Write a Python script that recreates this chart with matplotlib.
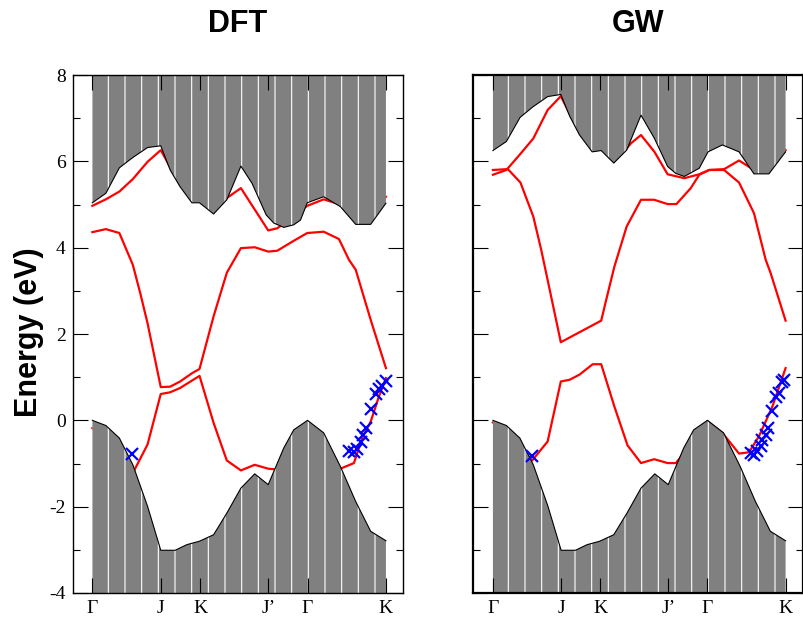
import matplotlib
matplotlib.use("Agg")
import matplotlib.pyplot as plt
from matplotlib.ticker import MultipleLocator

# k-path positions (Gamma -> K, normalised)
K_TICKS = [0.0, 0.233, 0.367, 0.599, 0.733, 1.0]
K_LABELS = ["Γ", "J", "K", "J’", "Γ", "K"]
Y_TICKS = [-4, -2, 0, 2, 4, 6, 8]

# valence continuum top (same in both panels)
vb_x = [0, .046, .092, .138, .188, .233, .282, .322, .365, .413, .458, .506,
        .553, .599, .652, .686, .733, .788, .845, .897, .948, 1.0]
vb_top = [0.0, -0.12, -0.41, -1.03, -1.99, -3.01, -3.01, -2.88, -2.80, -2.65,
          -2.15, -1.57, -1.24, -1.49, -0.64, -0.22, 0.0, -0.29, -1.07, -1.88,
          -2.57, -2.79]

# conduction continuum bottom
dft_cb_x = [0, .046, .092, .138, .188, .233, .265, .299, .339, .365, .413, .458,
            .506, .544, .592, .618, .652, .686, .709, .732, .788, .845, .897,
            .948, 1.0]
dft_cb = [5.04, 5.26, 5.85, 6.09, 6.32, 6.36, 5.80, 5.41, 5.04, 5.04, 4.78, 5.11,
          5.89, 5.49, 4.76, 4.57, 4.47, 4.53, 4.64, 5.04, 5.18, 4.95, 4.54,
          4.54, 5.03]
gw_cb_x = [0, .046, .093, .138, .187, .232, .262, .296, .339, .370, .413, .457,
           .506, .552, .597, .625, .654, .705, .735, .784, .841, .892, .943, 1.0]
gw_cb = [6.25, 6.46, 7.02, 7.27, 7.50, 7.55, 7.05, 6.61, 6.22, 6.25, 5.96, 6.26,
         7.07, 6.53, 5.88, 5.72, 5.65, 5.84, 6.22, 6.38, 6.22, 5.71, 5.71, 6.22]

# DFT bands
dft_b1_x = [0, .046, .092, .138, .188, .233, .299, .365, .413, .458, .506, .599,
            .63, .732, .788, .845, .897, .948, 1.0]
dft_b1 = [4.97, 5.12, 5.30, 5.59, 5.99, 6.26, 5.45, 5.10, 4.85, 5.15, 5.38, 4.40,
          4.45, 4.97, 5.12, 5.00, 4.80, 4.80, 5.18]
dft_b2_x = [0, .046, .092, .138, .163, .188, .233, .265, .299, .339, .365, .413,
            .458, .506, .553, .599, .63, .686, .732, .788, .84, .874, .897,
            .948, 1.0]
dft_b2 = [4.36, 4.43, 4.34, 3.60, 2.95, 2.25, 0.77, 0.78, 0.90, 1.09, 1.19, 2.41,
          3.42, 3.99, 4.01, 3.91, 3.93, 4.16, 4.34, 4.37, 4.20, 3.72, 3.49,
          2.33, 1.21]
dft_b3_x = [0, .046, .092, .138, .188, .233, .265, .299, .339, .365, .413, .458,
            .506, .553, .599, .63, .686, .733, .788, .845, .891, .919, .948,
            .976, 1.0]
dft_b3 = [-0.18, -0.45, -0.85, -1.22, -0.56, 0.61, 0.65, 0.75, 0.92, 1.03, -0.06,
          -0.93, -1.16, -1.03, -1.12, -1.14, -1.12, -1.12, -1.12, -1.12, -0.99,
          -0.41, -0.03, 0.55, 0.98]
dft_pts_x = [.134, .874, .891, .903, .915, .922, .932, .948, .965, .975, .986, 1.0]
dft_pts = [-0.78, -0.70, -0.73, -0.67, -0.50, -0.35, -0.18, 0.27, 0.62, 0.72,
           0.80, 0.90]

# GW bands
gw_b1_x = [0, .046, .091, .138, .187, .232, .296, .370, .413, .457, .472, .506,
           .552, .597, .654, .705, .739, .79, .841, .892, .943, 1.0]
gw_b1 = [5.69, 5.80, 6.15, 6.53, 7.19, 7.51, 6.65, 6.30, 6.00, 6.30, 6.42, 6.61,
         6.22, 5.70, 5.61, 5.70, 5.80, 5.82, 6.02, 5.80, 5.80, 6.26]
gw_b2_x = [0, .051, .094, .138, .165, .187, .232, .370, .387, .415, .457, .506,
           .551, .597, .627, .676, .705, .739, .79, .841, .892, .932, .949, 1.0]
gw_b2 = [5.80, 5.82, 5.51, 4.72, 3.95, 3.25, 1.81, 2.31, 2.79, 3.56, 4.49, 5.11,
         5.11, 5.01, 5.01, 5.38, 5.69, 5.80, 5.80, 5.51, 4.80, 3.72, 3.41, 2.31]
gw_b3_x = [0, .046, .092, .134, .187, .232, .262, .296, .341, .370, .415, .460,
           .506, .551, .597, .625, .684, .733, .784, .841, .875, .909, .955, 1.0]
gw_b3 = [-0.05, -0.30, -0.60, -0.93, -0.49, 0.90, 0.94, 1.06, 1.30, 1.30, 0.32,
         -0.58, -0.99, -0.90, -0.99, -0.99, -0.50, -0.02, -0.29, -0.77, -0.74,
         -0.37, 0.32, 1.21]
gw_pts_x = [.132, .881, .892, .903, .915, .920, .932, .941, .954, .968, .977,
            .988, .994]
gw_pts = [-0.82, -0.76, -0.80, -0.72, -0.60, -0.45, -0.33, -0.18, 0.21, 0.55,
          0.63, 0.88, 0.94]

FILL = "#808080"
plt.rcParams["hatch.linewidth"] = 0.8


def draw_panel(ax, title, cb_x, cb, bands, pts_x, pts, spine_w):
    ax.set_axisbelow(False)
    for bx, by in bands:
        ax.plot(bx, by, color="red", lw=1.6, zorder=2.1)
    ax.fill_between(cb_x, cb, 8, facecolor=FILL, edgecolor="white", hatch="|",
                    linewidth=0, zorder=2.2)
    ax.fill_between(vb_x, -4, vb_top, facecolor=FILL, edgecolor="white",
                    hatch="|", linewidth=0, zorder=2.2)
    ax.plot(cb_x, cb, color="black", lw=0.8, zorder=2.3)
    ax.plot(vb_x, vb_top, color="black", lw=0.8, zorder=2.3)
    ax.plot(pts_x, pts, ls="none", marker="x", ms=8, mew=1.6, color="blue",
            zorder=4)

    ax.set_xlim(-0.067, 1.058)
    ax.set_ylim(-4, 8)
    ax.set_xticks(K_TICKS)
    ax.set_xticklabels(K_LABELS, fontsize=14, family="Liberation Serif")
    ax.set_yticks(Y_TICKS)
    ax.yaxis.set_minor_locator(MultipleLocator(1))
    ax.tick_params(which="both", direction="in", top=True, right=True,
                   width=0.8, pad=5)
    ax.tick_params(which="major", length=10.5)
    ax.tick_params(which="minor", length=5)
    for sp in ax.spines.values():
        sp.set_linewidth(spine_w)
    ax.set_title(title, fontsize=22, fontweight="bold",
                 family="Liberation Sans", pad=31)


fig = plt.figure(figsize=(8.04, 6.17), dpi=100)
ax1 = fig.add_axes([0.0904, 0.0389, 0.4108, 0.8395])
ax2 = fig.add_axes([0.5887, 0.0389, 0.4095, 0.8395])

draw_panel(ax1, "DFT", dft_cb_x, dft_cb,
           [(dft_b1_x, dft_b1), (dft_b2_x, dft_b2), (dft_b3_x, dft_b3)],
           dft_pts_x, dft_pts, 1.0)
draw_panel(ax2, "GW", gw_cb_x, gw_cb,
           [(gw_b1_x, gw_b1), (gw_b2_x, gw_b2), (gw_b3_x, gw_b3)],
           gw_pts_x, gw_pts, 1.6)

ax1.set_yticklabels([str(v) for v in Y_TICKS], fontsize=14,
                    family="Liberation Serif")
ax2.set_yticklabels([])

fig.text(0.036, 0.461, "Energy (eV)", rotation=90, ha="center", va="center",
         fontsize=22, fontweight="bold", family="Liberation Sans")

fig.savefig("out.png", dpi=100)
